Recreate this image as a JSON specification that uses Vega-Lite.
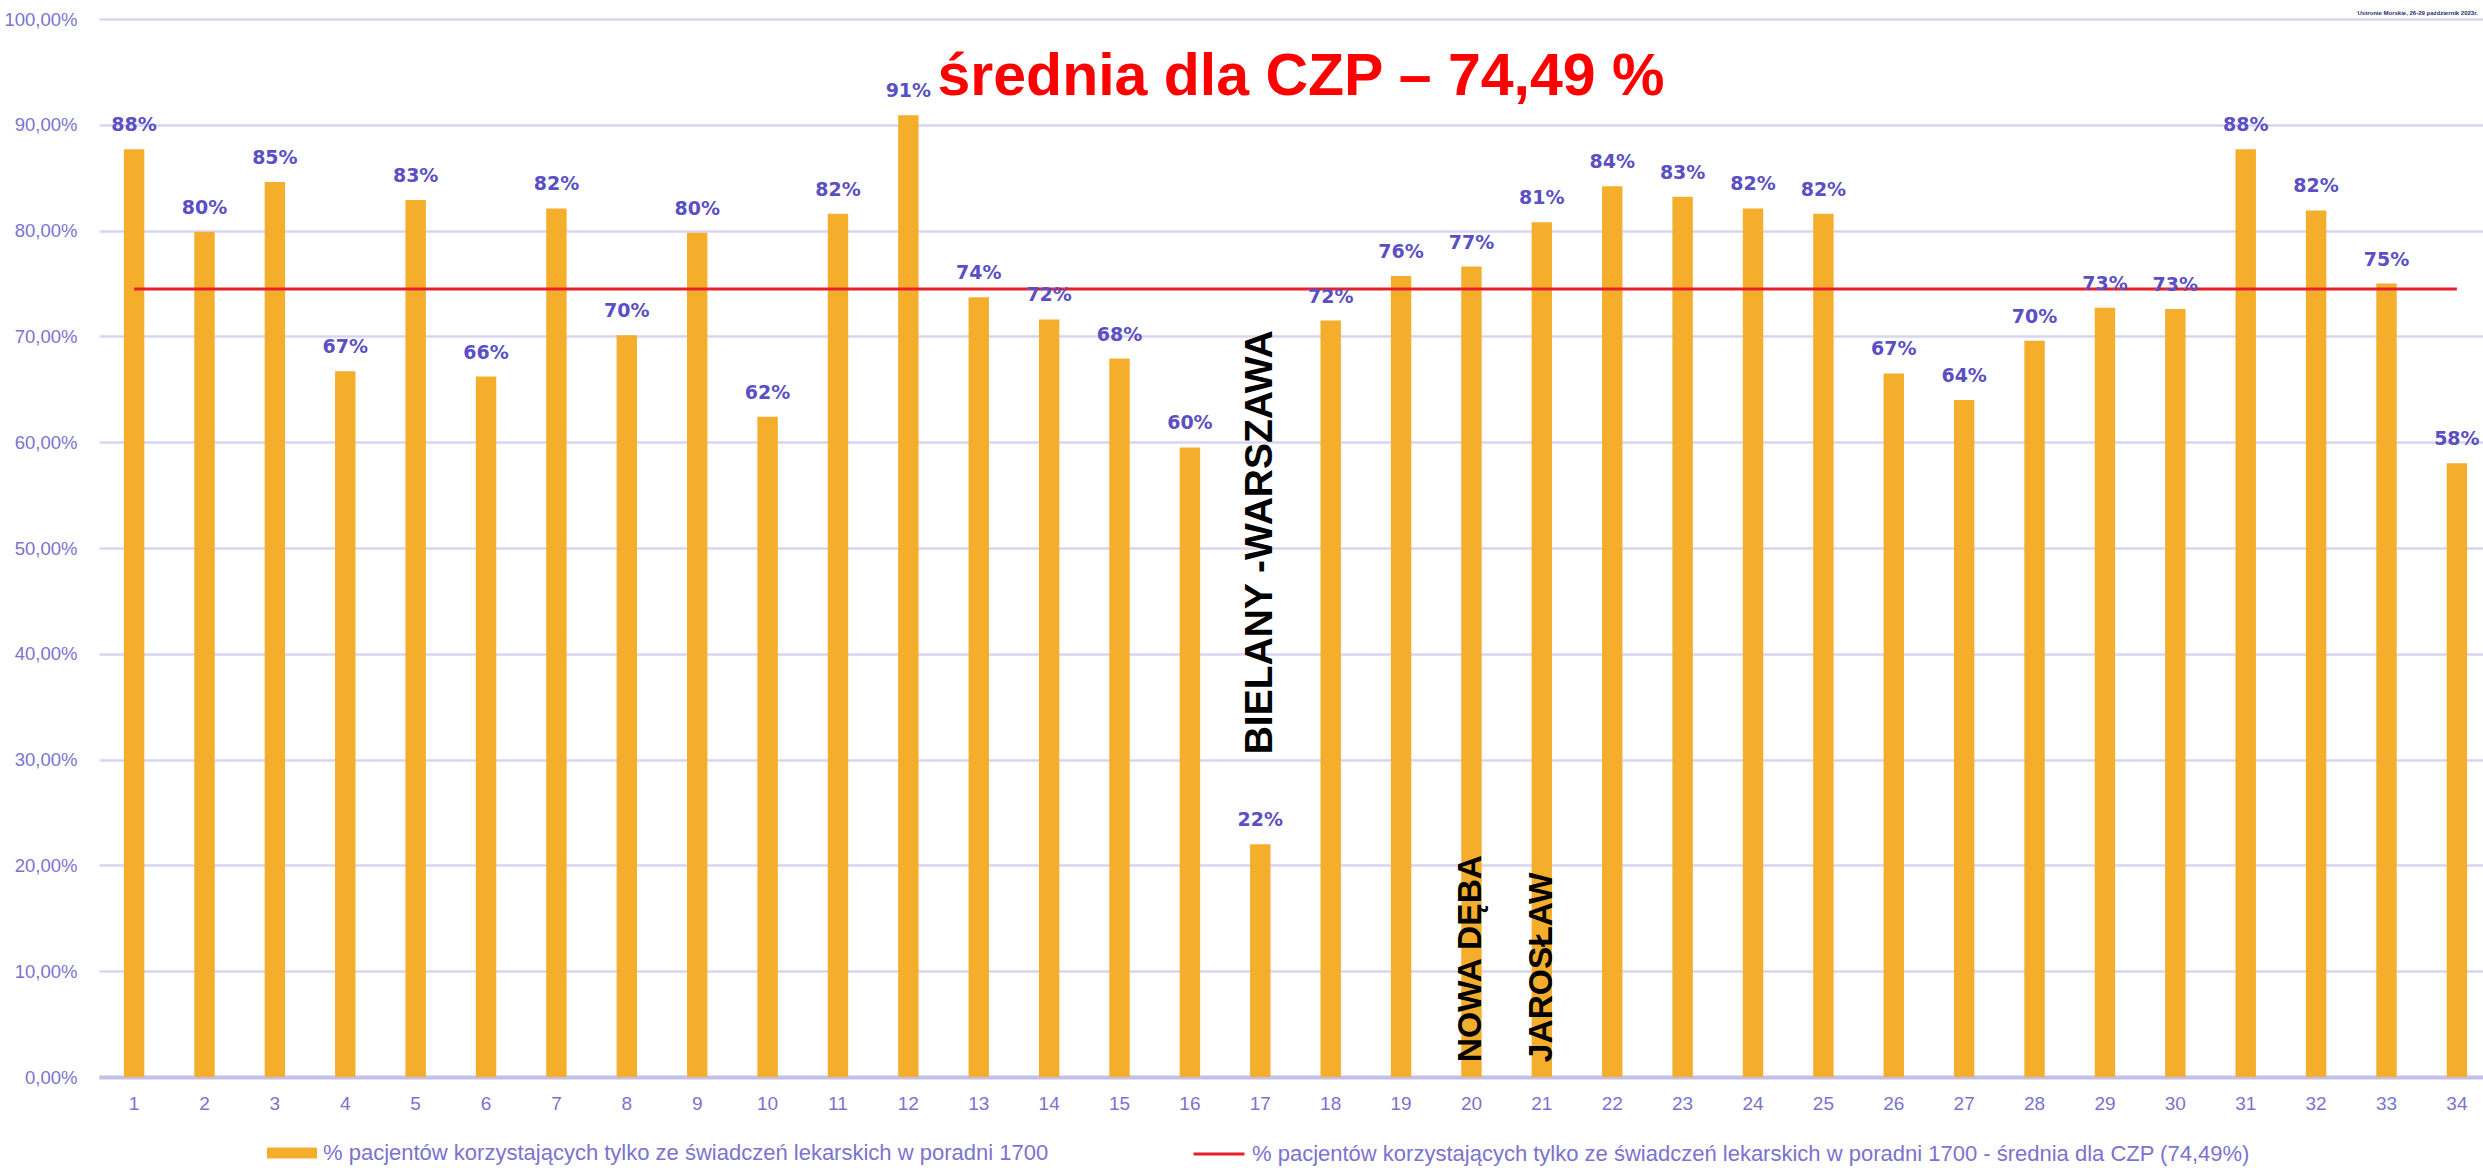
{
  "$schema": "https://vega.github.io/schema/vega-lite/v6.json",
  "width": 2384,
  "height": 1058,
  "autosize": {"type": "none"},
  "padding": {"left": 99, "top": 19, "right": 0, "bottom": 91},
  "background": "white",
  "title": {
    "text": "średnia dla CZP – 74,49 %",
    "anchor": "middle",
    "orient": "top",
    "frame": "group",
    "offset": -144,
    "dx": 10,
    "baseline": "alphabetic",
    "font": "Liberation Sans",
    "fontSize": 59,
    "fontWeight": "bold",
    "color": "#FF0000"
  },
  "config": {"view": {"stroke": null}},
  "data": {
    "values": [
      {"nr": "1", "v": 0.877, "avg": 0.7449},
      {"nr": "2", "v": 0.799, "avg": 0.7449},
      {"nr": "3", "v": 0.846, "avg": 0.7449},
      {"nr": "4", "v": 0.667, "avg": 0.7449},
      {"nr": "5", "v": 0.829, "avg": 0.7449},
      {"nr": "6", "v": 0.662, "avg": 0.7449},
      {"nr": "7", "v": 0.821, "avg": 0.7449},
      {"nr": "8", "v": 0.701, "avg": 0.7449},
      {"nr": "9", "v": 0.798, "avg": 0.7449},
      {"nr": "10", "v": 0.624, "avg": 0.7449},
      {"nr": "11", "v": 0.816, "avg": 0.7449},
      {"nr": "12", "v": 0.909, "avg": 0.7449},
      {"nr": "13", "v": 0.737, "avg": 0.7449},
      {"nr": "14", "v": 0.716, "avg": 0.7449},
      {"nr": "15", "v": 0.679, "avg": 0.7449},
      {"nr": "16", "v": 0.595, "avg": 0.7449},
      {"nr": "17", "v": 0.220, "avg": 0.7449, "note": "BIELANY -WARSZAWA"},
      {"nr": "18", "v": 0.715, "avg": 0.7449},
      {"nr": "19", "v": 0.757, "avg": 0.7449},
      {"nr": "20", "v": 0.766, "avg": 0.7449, "note": "NOWA DĘBA"},
      {"nr": "21", "v": 0.808, "avg": 0.7449, "note": "JAROSŁAW"},
      {"nr": "22", "v": 0.842, "avg": 0.7449},
      {"nr": "23", "v": 0.832, "avg": 0.7449},
      {"nr": "24", "v": 0.821, "avg": 0.7449},
      {"nr": "25", "v": 0.816, "avg": 0.7449},
      {"nr": "26", "v": 0.665, "avg": 0.7449},
      {"nr": "27", "v": 0.640, "avg": 0.7449},
      {"nr": "28", "v": 0.696, "avg": 0.7449},
      {"nr": "29", "v": 0.727, "avg": 0.7449},
      {"nr": "30", "v": 0.726, "avg": 0.7449},
      {"nr": "31", "v": 0.877, "avg": 0.7449},
      {"nr": "32", "v": 0.819, "avg": 0.7449},
      {"nr": "33", "v": 0.750, "avg": 0.7449},
      {"nr": "34", "v": 0.580, "avg": 0.7449}
    ]
  },
  "encoding": {
    "x": {
      "field": "nr",
      "type": "ordinal",
      "sort": null,
      "scale": {"paddingInner": 0.71, "paddingOuter": 0.29, "align": 0.61},
      "axis": {
        "title": null,
        "labelAngle": 0,
        "ticks": false,
        "grid": false,
        "domain": true,
        "domainColor": "#C4BFEA",
        "domainWidth": 4,
        "labelFont": "Liberation Sans",
        "labelFontSize": 19,
        "labelColor": "#7B73CF",
        "labelPadding": 17
      }
    }
  },
  "layer": [
    {
      "mark": {"type": "bar"},
      "encoding": {
        "y": {
          "field": "v",
          "type": "quantitative",
          "scale": {"domain": [0, 1], "nice": false},
          "axis": {
            "title": null,
            "ticks": false,
            "domain": false,
            "grid": true,
            "gridColor": "#D8D5F0",
            "gridWidth": 2.5,
            "values": [0, 0.1, 0.2, 0.3, 0.4, 0.5, 0.6, 0.7, 0.8, 0.9, 1],
            "labelExpr": "replace(format(datum.value, '.2%'), '.', ',')",
            "labelFont": "Liberation Sans",
            "labelFontSize": 18.5,
            "labelColor": "#7B73CF",
            "labelPadding": 22
          }
        },
        "fill": {
          "datum": "% pacjentów korzystających tylko ze świadczeń lekarskich w poradni 1700",
          "scale": {"range": ["#F4AE2C"]},
          "legend": {
            "title": null,
            "orient": "none",
            "legendX": 168,
            "legendY": 1109,
            "padding": 0,
            "symbolType": "M-1,-0.22H1V0.22H-1Z",
            "symbolSize": 2500,
            "symbolStrokeWidth": 0,
            "labelFont": "Liberation Sans",
            "labelFontSize": 22,
            "labelColor": "#7B73CF",
            "labelLimit": 0,
            "labelOffset": 6
          }
        }
      }
    },
    {
      "mark": {"type": "line", "strokeWidth": 3},
      "encoding": {
        "y": {"field": "avg", "type": "quantitative"},
        "stroke": {
          "datum": "% pacjentów korzystających tylko ze świadczeń lekarskich w poradni 1700 - średnia dla CZP (74,49%)",
          "scale": {"range": ["#E8202A"]},
          "legend": {
            "title": null,
            "orient": "none",
            "legendX": 1093,
            "legendY": 1108,
            "padding": 0,
            "symbolType": "stroke",
            "symbolSize": 2601,
            "symbolStrokeWidth": 3,
            "labelFont": "Liberation Sans",
            "labelFontSize": 22,
            "labelColor": "#7B73CF",
            "labelLimit": 0,
            "labelOffset": 6
          }
        }
      }
    },
    {
      "mark": {"type": "text", "font": "DejaVu Sans", "fontSize": 19, "fontWeight": "bold", "color": "#5B4FC4", "baseline": "alphabetic", "dy": -18},
      "encoding": {
        "y": {"field": "v", "type": "quantitative"},
        "text": {"field": "v", "type": "quantitative", "format": ".0%"}
      }
    },
    {
      "transform": [{"filter": "datum.nr === '17'"}],
      "mark": {"type": "text", "font": "Liberation Sans", "fontSize": 39, "fontWeight": "bold", "color": "#000000", "angle": 270, "align": "left", "baseline": "middle"},
      "encoding": {
        "y": {"datum": 0.305},
        "text": {"field": "note"}
      }
    },
    {
      "transform": [{"filter": "datum.nr === '20' || datum.nr === '21'"}],
      "mark": {"type": "text", "font": "Liberation Sans", "fontSize": 33.5, "fontWeight": "bold", "color": "#000000", "angle": 270, "align": "left", "baseline": "middle"},
      "encoding": {
        "y": {"datum": 0.014},
        "text": {"field": "note"}
      }
    },
    {
      "transform": [{"filter": "datum.nr === '34'"}],
      "mark": {"type": "text", "font": "Liberation Sans", "fontSize": 6, "fontWeight": "bold", "color": "#1F2D6B", "align": "right", "baseline": "bottom", "dx": 21, "dy": -3},
      "encoding": {
        "y": {"datum": 1},
        "text": {"value": "Ustronie Morskie, 26-29 październik 2023r."}
      }
    }
  ]
}
